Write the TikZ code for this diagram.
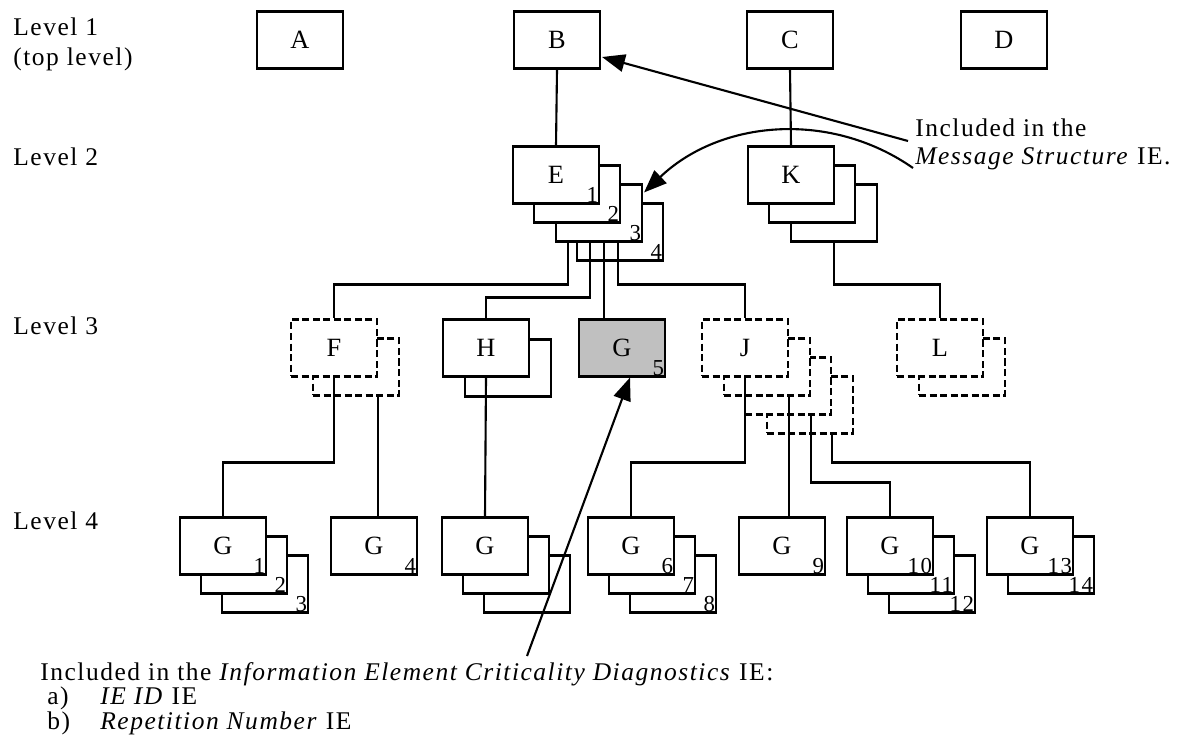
\documentclass[tikz,border=0pt]{standalone}
\usepackage{fontspec}
\setmainfont{Liberation Serif}[LetterSpace=6]
\usetikzlibrary{arrows.meta,calc}

\definecolor{repgray}{RGB}{192,192,192}

\tikzset{
  ie/.style={draw, fill=white, line width=1.2pt, minimum width=1.72cm, minimum height=1.14cm, inner sep=0pt, font=\fontsize{15}{17}\selectfont},
  opt/.style={ie, dash pattern=on 4pt off 2pt},
  rep/.style={font=\fontsize{13}{15}\selectfont, inner sep=1pt, anchor=south east},
  txt/.style={anchor=base west, inner sep=0pt, font=\fontsize{14.5}{17}\selectfont},
  link/.style={line width=1.2pt},
  pointer/.style={line width=1.2pt, -{Triangle[length=13pt,width=10pt]}}
}

\begin{document}
\begin{tikzpicture}[x=0.02cm, y=-0.02cm]
  \useasboundingbox (0,0) rectangle (1179,749);

  % level captions
  \node[txt] (lv1) at (13,36) {Level 1};
  \node[txt] (lv1b) at (13,66) {(top level)};
  \node[txt] (lv2) at (13,166) {Level 2};
  \node[txt] (lv3) at (13,335) {Level 3};
  \node[txt] (lv4) at (13,529) {Level 4};

  % level 1
  \node[ie] (A) at (300,40) {A};
  \node[ie] (B) at (557,40) {B};
  \node[ie] (C) at (790,40) {C};
  \node[ie] (D) at (1004,40) {D};

  % level 2
  \node[ie] (E4) at (620,232) {};
  \node[rep] (n4) at (E4.south east) {4};
  \node[ie] (E3) at (599,213) {};
  \node[rep] (n3) at (E3.south east) {3};
  \node[ie] (E2) at (577,194) {};
  \node[rep] (n2) at (E2.south east) {2};
  \node[ie] (E) at (556,175) {E};
  \node[rep] (n1) at (E.south east) {1};

  \node[ie] (K3) at (834,213) {};
  \node[ie] (K2) at (812,194) {};
  \node[ie] (K) at (791,175) {K};

  % level 3
  \node[opt] (F2) at (356,367) {};
  \node[opt] (F) at (334,348) {F};
  \node[ie] (H2) at (508,368) {};
  \node[ie] (H) at (486,348) {H};
  \node[ie, fill=repgray] (G5) at (622,348) {G};
  \node[rep] (n5) at (G5.south east) {5};
  \node[opt] (J4) at (810,405) {};
  \node[opt] (J3) at (788,386) {};
  \node[opt] (J2) at (767,367) {};
  \node[opt] (J) at (745,348) {J};
  \node[opt] (L2) at (962,367) {};
  \node[opt] (L) at (940,348) {L};

  % level 4
  \node[ie] (G3) at (265,584) {};
  \node[rep] (m3) at (G3.south east) {3};
  \node[ie] (G2) at (244,565) {};
  \node[rep] (m2) at (G2.south east) {2};
  \node[ie] (G1) at (223,546) {G};
  \node[rep] (m1) at (G1.south east) {1};

  \node[ie] (G4) at (374,546) {G};
  \node[rep] (m4) at (G4.south east) {4};

  \node[ie] (GH3) at (527,584) {};
  \node[ie] (GH2) at (506,565) {};
  \node[ie] (GH) at (485,546) {G};

  \node[ie] (G8) at (673,584) {};
  \node[rep] (m8) at (G8.south east) {8};
  \node[ie] (G7) at (652,565) {};
  \node[rep] (m7) at (G7.south east) {7};
  \node[ie] (G6) at (631,546) {G};
  \node[rep] (m6) at (G6.south east) {6};

  \node[ie] (G9) at (782,546) {G};
  \node[rep] (m9) at (G9.south east) {9};

  \node[ie] (G12) at (932,584) {};
  \node[rep] (m12) at (G12.south east) {12};
  \node[ie] (G11) at (911,565) {};
  \node[rep] (m11) at (G11.south east) {11};
  \node[ie] (G10) at (890,546) {G};
  \node[rep] (m10) at (G10.south east) {10};

  \node[ie] (G14) at (1051,565) {};
  \node[rep] (m14) at (G14.south east) {14};
  \node[ie] (G13) at (1030,546) {G};
  \node[rep] (m13) at (G13.south east) {13};

  % tree
  \draw[link] (B.south) -- (E.north);
  \draw[link] (C.south) -- (K.north);
  \coordinate (e1) at ($(E3.south west)+(13,0)$);
  \coordinate (e2) at ($(E3.south west)+(35,0)$);
  \coordinate (e3) at ($(E3.south west)+(49,0)$);
  \coordinate (e4) at ($(E3.south west)+(63,0)$);
  \draw[link] (e1) -- ++(0,42) -| (F.north);
  \draw[link] (e2) -- ++(0,55) -| (H.north);
  \draw[link] (e3) -- (e3 |- G5.north);
  \draw[link] (e4) -- ++(0,42) -| (J.north);
  \draw[link] (K3.south) -- ++(0,42) -| (L.north);

  \draw[link] (F.south) -- ++(0,85) -| (G1.north);
  \draw[link] (F2.south -| F.east) -- (G4.north -| F.east);
  \draw[link] (H.south) -- (GH.north);
  \draw[link] (J.south) -- ++(0,85) -| (G6.north);
  \draw[link] (J2.south -| J.east) -- (G9.north -| J.east);
  \draw[link] (J3.south -| J2.east) -- ++(0,67) -| (G10.north);
  \draw[link] (J4.south -| J3.east) -- ++(0,28) -| (G13.north);

  % notes
  \node[txt] (msg1) at (915,137) {Included in the};
  \node[txt] (msg2) at (915,165) {\textit{Message Structure} IE.};
  \coordinate (tailB) at (908,141);
  \coordinate (tailE) at (913,168);
  \draw[pointer] (tailB) -- ($(B.east)+(1,17)$);
  \draw[pointer] (tailE) .. controls (830,110) and (720,120) .. ($(E3.north east)+(1,9)$);

  \node[txt] (crit) at (40,680) {Included in the \textit{Information Element Criticality Diagnostics} IE:};
  \node[txt] (ia) at (47,704) {a)};
  \node[txt] (ta) at (100,704) {\textit{IE ID} IE};
  \node[txt] (ib) at (47,729) {b)};
  \node[txt] (tb) at (100,729) {\textit{Repetition Number} IE};
  \coordinate (tailG) at (527,656);
  \draw[pointer] (tailG) -- ($(G5.south)+(8,0)$);
\end{tikzpicture}
\end{document}
